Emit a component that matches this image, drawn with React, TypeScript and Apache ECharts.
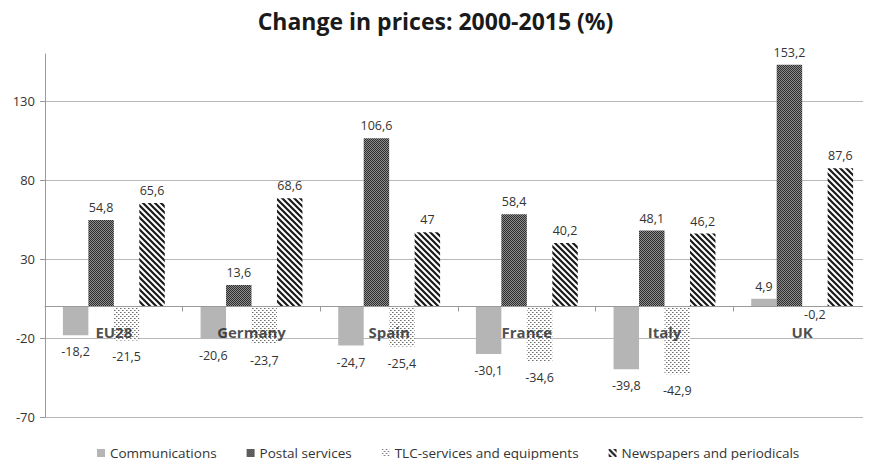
import React, { useEffect, useRef } from "react";
import * as echarts from "echarts";

const categories = ["EU28", "Germany", "Spain", "France", "Italy", "UK"];
const seriesNames = [
  "Communications",
  "Postal services",
  "TLC-services and equipments",
  "Newspapers and periodicals",
];
const communications = [-18.2, -20.6, -24.7, -30.1, -39.8, 4.9];
const postal = [54.8, 13.6, 106.6, 58.4, 48.1, 153.2];
const tlc = [-21.5, -23.7, -25.4, -34.6, -42.9, -0.2];
const newspapers = [65.6, 68.6, 47, 40.2, 46.2, 87.6];
const yMin = -70;
const yMax = 160;
const yInterval = 50;

function makePattern(size: number, draw: (ctx: CanvasRenderingContext2D) => void) {
  const c = document.createElement("canvas");
  c.width = size;
  c.height = size;
  const ctx = c.getContext("2d")!;
  draw(ctx);
  return { image: c, repeat: "repeat", imageWidth: size, imageHeight: size } as any;
}

export default function App() {
  const ref = useRef<HTMLDivElement>(null);
  useEffect(() => {
    if (!ref.current) return;
    const chart = echarts.init(ref.current, undefined, { renderer: "svg" });

    const postalPat = makePattern(2, (ctx) => {
      ctx.fillStyle = "#8c8c8c";
      ctx.fillRect(0, 0, 2, 2);
      ctx.fillStyle = "#2e2e2e";
      ctx.fillRect(0, 0, 1, 1);
      ctx.fillRect(1, 1, 1, 1);
    });
    const tlcPat = makePattern(4, (ctx) => {
      ctx.fillStyle = "#ffffff";
      ctx.fillRect(0, 0, 4, 4);
      ctx.fillStyle = "#6e6e6e";
      ctx.fillRect(0, 0, 1, 1);
      ctx.fillRect(2, 2, 1, 1);
      ctx.fillStyle = "#b0b0b0";
      ctx.fillRect(1, 0, 1, 1);
      ctx.fillRect(3, 2, 1, 1);
    });
    const newsPat = makePattern(6, (ctx) => {
      ctx.fillStyle = "#ffffff";
      ctx.fillRect(0, 0, 6, 6);
      ctx.strokeStyle = "#1a1a1a";
      ctx.lineWidth = 2.2;
      ctx.beginPath();
      for (let k = -6; k <= 12; k += 6) {
        ctx.moveTo(k - 1, -1);
        ctx.lineTo(k + 7, 7);
      }
      ctx.stroke();
    });

    const fmt = (v: number) => String(v).replace(".", ",");
    const mk = (arr: number[]) =>
      arr.map((v) => ({
        value: v,
        label: {
          position: v < 0 ? "bottom" : "top",
          distance: v < 0 ? (Math.abs(v) < 1 ? 1 : 10) : 6,
        },
      }));

    const colors = ["#b5b5b5", postalPat, tlcPat, newsPat];
    const datas = [communications, postal, tlc, newspapers];

    const barSeries = datas.map((d, i) => ({
      name: seriesNames[i],
      type: "bar",
      data: mk(d),
      barGap: "0%",
      barCategoryGap: "26%",
      itemStyle: { color: colors[i] },
      label: {
        show: true,
        formatter: (p: any) => fmt(p.value),
        fontFamily: "Open Sans",
        fontSize: 12.5,
        color: "#333",
      },
    }));

    const catLabelSeries = {
      name: "categoryLabels",
      type: "scatter",
      data: categories.map((c) => [c, 0]),
      symbolSize: 1,
      itemStyle: { color: "rgba(0,0,0,0)" },
      z: 10,
      silent: true,
      label: {
        show: true,
        position: "bottom",
        distance: 17,
        formatter: (p: any) => p.value[0],
        fontFamily: "Open Sans",
        fontWeight: "bold",
        fontSize: 15,
        color: "#1e1e1e",
      },
    };

    chart.setOption({
      animation: false,
      title: {
        text: "Change in prices: 2000-2015 (%)",
        left: "center",
        top: 4,
        textStyle: {
          fontFamily: "Open Sans",
          fontWeight: "bold",
          fontSize: 23,
          color: "#1a1a1a",
        },
      },
      legend: {
        bottom: 3,
        left: 92,
        itemWidth: 8,
        itemHeight: 8,
        itemGap: 30,
        icon: "rect",
        data: seriesNames,
        textStyle: { fontFamily: "Open Sans", fontSize: 13.5, color: "#333" },
      },
      grid: { left: 45, right: -5, top: 54, bottom: 51, containLabel: false },
      xAxis: {
        type: "category",
        data: categories,
        z: 10,
        axisLine: { onZero: true, lineStyle: { color: "#9a9a9a", width: 1 } },
        axisTick: { show: true, length: 5, lineStyle: { color: "#9a9a9a" } },
        axisLabel: { show: false },
      },
      yAxis: {
        type: "value",
        min: yMin,
        max: yMax,
        interval: yInterval,
        axisLine: { show: true, lineStyle: { color: "#9a9a9a" } },
        axisTick: { show: true, length: 5, lineStyle: { color: "#9a9a9a" } },
        axisLabel: {
          showMaxLabel: false,
          margin: 10,
          fontFamily: "Open Sans",
          fontSize: 13,
          color: "#333",
        },
        splitLine: { show: true, showMaxLine: false, lineStyle: { color: "#b8b8b8" } },
      },
      series: [...barSeries, catLabelSeries],
    });
    return () => chart.dispose();
  }, []);
  return <div ref={ref} style={{ width: 871, height: 468, margin: -8 }} />;
}
